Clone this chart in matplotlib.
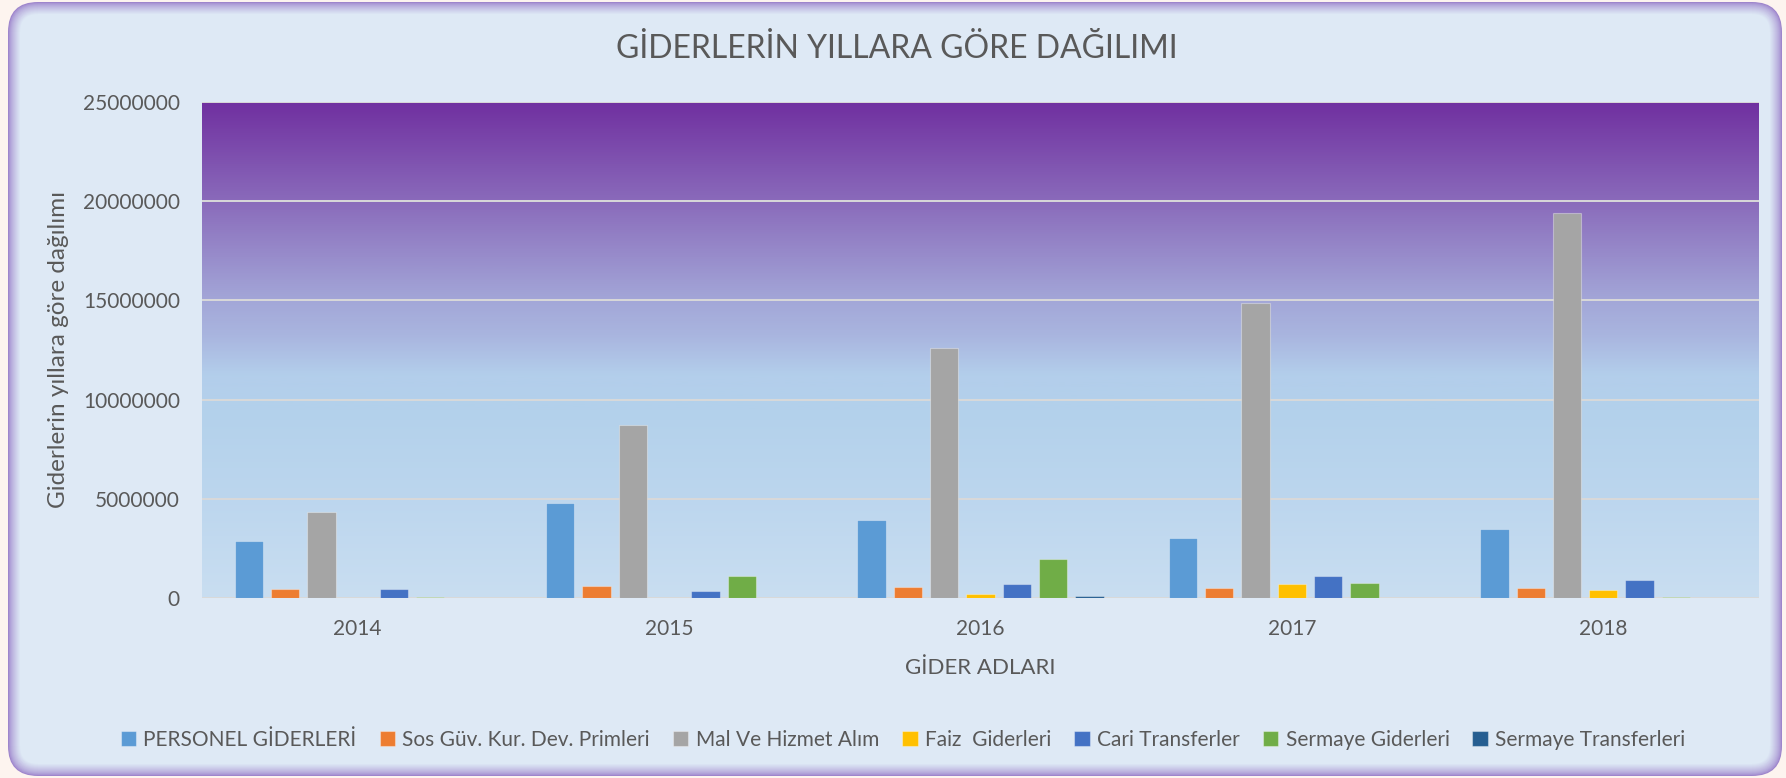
import numpy as np
import matplotlib
matplotlib.use('Agg')
import matplotlib.pyplot as plt
from matplotlib.colors import LinearSegmentedColormap
from matplotlib.patches import FancyBboxPatch
from matplotlib.transforms import IdentityTransform

plt.rcParams['font.family'] = ['Lato', 'DejaVu Sans']

# data
years = ['2014', '2015', '2016', '2017', '2018']
series_names = ['PERSONEL GİDERLERİ', 'Sos Güv. Kur. Dev. Primleri', 'Mal Ve Hizmet Alım',
                'Faiz  Giderleri', 'Cari Transferler', 'Sermaye Giderleri', 'Sermaye Transferleri']
personel = [2860000, 4770000, 3910000, 3000000, 3450000]
sos_guv = [420000, 580000, 520000, 470000, 470000]
mal_hizmet = [4310000, 8710000, 12600000, 14850000, 19400000]
faiz = [0, 0, 190000, 690000, 400000]
cari = [440000, 340000, 690000, 1080000, 880000]
sermaye_gid = [30000, 1110000, 1950000, 730000, 15000]
sermaye_tr = [0, 0, 90000, 0, 0]
yticks = [0, 5000000, 10000000, 15000000, 20000000, 25000000]

all_series = [personel, sos_guv, mal_hizmet, faiz, cari, sermaye_gid, sermaye_tr]
colors = ['#5B9BD5', '#ED7D31', '#A5A5A5', '#FFC000', '#4472C4', '#70AD47', '#255E91']

W, H = 1786, 778
fig = plt.figure(figsize=(W / 100, H / 100), dpi=100, facecolor='#FDF4EF')

# rounded chart frame with a soft purple rim
x0, y0, x1, y1 = 8, 2, 1782, 776
purple = np.array([0.62, 0.52, 0.80])
bg = np.array([0.871, 0.914, 0.961])
n_rim = 12
for i in range(n_rim + 1):
    t = (i / n_rim) ** 0.7
    c = purple * (1 - t) + bg * t
    box = FancyBboxPatch((x0 + i, y0 + i), (x1 - x0) - 2 * i, (y1 - y0) - 2 * i,
                         boxstyle='round,pad=0,rounding_size=%d' % max(30 - i, 4),
                         transform=IdentityTransform(), facecolor=c, edgecolor='none',
                         zorder=-10 + i * 0.01)
    fig.patches.append(box)

ax = fig.add_axes([202 / W, 1 - 597.7 / H, (1759 - 202) / W, (597.7 - 102.3) / H])
ax.set_facecolor('none')

# gradient plot area
stops = [(0.0, '#C9DEF1'), (0.2, '#BCD6EE'), (0.38, '#B3D1EB'), (0.45, '#B3CEEB'),
         (0.53, '#A9B5DF'), (0.6, '#A3A7D8'), (0.8, '#8A6BBB'), (1.0, '#7030A0')]
cmap = LinearSegmentedColormap.from_list('bgfill', stops)
grad = np.linspace(0, 1, 512).reshape(-1, 1)
ax.imshow(grad, cmap=cmap, aspect='auto', extent=(0, 1, 0, 1), origin='lower',
          transform=ax.transAxes, zorder=0.1)

x = np.arange(len(years))
slot = 0.1166
bw = 0.091
for i, (vals, name, col) in enumerate(zip(all_series, series_names, colors)):
    ax.bar(x + (i - 3) * slot, vals, width=bw, color=col, label=name,
           edgecolor=(1, 1, 1, 0.35), linewidth=0.8, zorder=2)

ax.set_xlim(-0.5, len(years) - 0.5)
ax.set_ylim(0, 25000000)
ax.set_yticks(yticks)
ax.set_yticklabels([str(v) for v in yticks])
ax.set_xticks(x)
ax.set_xticklabels(years)
ax.tick_params(axis='both', length=0, labelsize=15, colors='#595959')
ax.tick_params(axis='y', pad=16)
ax.tick_params(axis='x', pad=15)
ax.grid(axis='y', color='#D9D9D9', linewidth=1.4, zorder=0.5)
ax.set_axisbelow(True)
for s in ax.spines.values():
    s.set_visible(False)

ax.set_xlabel('GİDER ADLARI', fontsize=16, color='#595959', labelpad=14)
fig.text(59 / W, 1 - 350 / H, 'Giderlerin yıllara göre dağılımı', rotation=90,
         ha='center', va='center', fontsize=17.5, color='#595959')
fig.text(897 / W, 1 - 49 / H, 'GİDERLERİN YILLARA GÖRE DAĞILIMI', ha='center', va='center',
         fontsize=23, color='#595959')

ax.legend(loc='center', bbox_to_anchor=(903 / W, 1 - 739.5 / H), bbox_transform=fig.transFigure,
          ncol=7, frameon=False, fontsize=15, labelcolor='#595959',
          handlelength=0.75, handleheight=0.75, handletextpad=0.35, columnspacing=1.1)

plt.savefig('out.png', dpi=100, facecolor=fig.get_facecolor())
